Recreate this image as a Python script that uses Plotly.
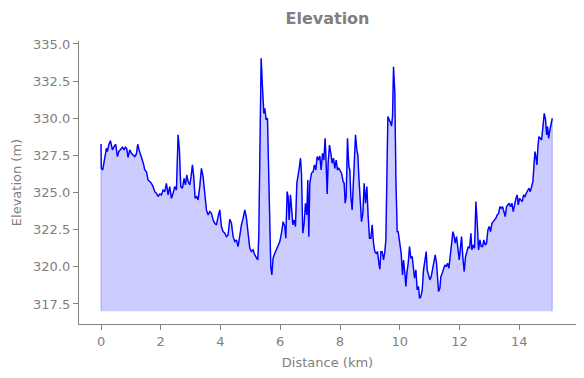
import plotly.graph_objects as go

# Distance along route (km)
distance_km = [
    0.00, 0.01, 0.057, 0.124, 0.18, 0.213, 0.258, 0.314, 0.347, 0.381, 0.436, 0.492, 0.548, 0.593, 0.660,
    0.716, 0.771, 0.816, 0.861, 0.905, 0.961, 1.017, 1.073, 1.129, 1.184, 1.229, 1.274, 1.318, 1.374, 1.430,
    1.463, 1.519, 1.575, 1.631, 1.687, 1.743, 1.798, 1.854, 1.910, 1.966, 2.022, 2.077, 2.133, 2.189, 2.245,
    2.301, 2.357, 2.412, 2.468, 2.524, 2.580, 2.625, 2.669, 2.725, 2.781, 2.826, 2.870, 2.915, 2.971, 3.015,
    3.060, 3.104, 3.149, 3.205, 3.250, 3.305, 3.361, 3.417, 3.473, 3.529, 3.585, 3.640, 3.696, 3.752, 3.808,
    3.864, 3.919, 3.975, 4.031, 4.087, 4.143, 4.199, 4.254, 4.310, 4.366, 4.422, 4.478, 4.533, 4.589, 4.645,
    4.701, 4.757, 4.813, 4.868, 4.924, 4.980, 5.036, 5.092, 5.147, 5.203, 5.248, 5.281, 5.315, 5.360, 5.404,
    5.449, 5.482, 5.527, 5.572, 5.605, 5.650, 5.683, 5.717, 5.761, 5.817, 5.873, 5.929, 5.985, 6.040, 6.096,
    6.152, 6.186, 6.230, 6.264, 6.297, 6.342, 6.375, 6.420, 6.465, 6.509, 6.554, 6.599, 6.643, 6.677, 6.710,
    6.755, 6.800, 6.844, 6.889, 6.922, 6.956, 6.989, 7.045, 7.101, 7.146, 7.190, 7.235, 7.280, 7.324, 7.369,
    7.413, 7.458, 7.503, 7.536, 7.570, 7.603, 7.648, 7.693, 7.738, 7.782, 7.827, 7.872, 7.916, 7.961, 8.006,
    8.050, 8.106, 8.139, 8.173, 8.206, 8.251, 8.296, 8.329, 8.363, 8.407, 8.463, 8.519, 8.564, 8.597, 8.631,
    8.675, 8.720, 8.765, 8.809, 8.854, 8.899, 8.943, 8.988, 9.033, 9.077, 9.122, 9.166, 9.211, 9.256, 9.300,
    9.334, 9.367, 9.412, 9.457, 9.501, 9.535, 9.568, 9.602, 9.647, 9.680, 9.725, 9.758, 9.792, 9.836, 9.870,
    9.914, 9.948, 10.004, 10.048, 10.093, 10.127, 10.171, 10.205, 10.238, 10.283, 10.327, 10.372, 10.417, 10.461, 10.495,
    10.540, 10.584, 10.629, 10.662, 10.707, 10.752, 10.796, 10.841, 10.886, 10.919, 10.964, 11.008, 11.053, 11.098, 11.142,
    11.187, 11.232, 11.265, 11.299, 11.343, 11.377, 11.421, 11.466, 11.511, 11.555, 11.600, 11.645, 11.689, 11.734, 11.779,
    11.812, 11.857, 11.901, 11.946, 11.991, 12.024, 12.069, 12.114, 12.158, 12.203, 12.248, 12.292, 12.337, 12.382, 12.415,
    12.460, 12.504, 12.549, 12.594, 12.638, 12.683, 12.728, 12.772, 12.817, 12.862, 12.906, 12.951, 12.996, 13.040, 13.085,
    13.130, 13.174, 13.219, 13.263, 13.308, 13.353, 13.397, 13.442, 13.487, 13.531, 13.576, 13.621, 13.665, 13.710, 13.755,
    13.799, 13.844, 13.889, 13.933, 13.967, 14.011, 14.056, 14.101, 14.145, 14.190, 14.235, 14.279, 14.324, 14.369, 14.413,
    14.458, 14.491, 14.525, 14.558, 14.592, 14.625, 14.659, 14.704, 14.748, 14.793, 14.837, 14.882, 14.916, 14.949, 14.983,
    15.027, 15.061, 15.106,
]

# Elevation (m)
elevation_m = [
    328.27, 326.63, 326.52, 327.42, 327.98, 327.75, 328.20, 328.49, 328.20, 327.87, 328.09, 328.25, 327.42, 327.75, 327.91,
    328.05, 327.87, 328.05, 327.96, 327.37, 327.87, 327.64, 327.53, 327.42, 327.60, 328.25, 327.87, 327.64, 327.24, 326.86,
    326.52, 326.41, 325.85, 325.74, 325.62, 325.40, 325.06, 324.95, 324.73, 324.91, 324.84, 325.17, 325.06, 325.62, 324.84,
    325.40, 324.61, 324.95, 325.40, 325.17, 328.88, 327.87, 325.40, 325.29, 325.96, 325.51, 326.18, 325.74, 325.51, 326.07,
    326.86, 326.07, 324.61, 324.73, 324.50, 325.40, 326.63, 326.07, 324.73, 323.83, 323.49, 323.72, 323.60, 323.16, 322.93,
    322.82, 323.38, 323.83, 322.71, 322.37, 322.26, 322.03, 322.15, 323.20, 322.93, 322.03, 321.70, 321.81, 321.36, 322.15,
    322.82, 323.27, 323.83, 323.27, 322.37, 321.25, 321.02, 321.14, 320.80, 320.58, 320.46, 322.03, 327.87, 334.03, 332.13,
    330.33, 330.67, 329.89, 330.00, 326.75, 322.26, 320.01, 319.45, 320.58, 320.91, 321.14, 321.47, 321.70, 322.26, 323.04,
    322.71, 321.92, 325.06, 324.73, 323.16, 324.84, 324.05, 322.82, 323.16, 322.71, 325.62, 326.07, 326.75, 327.31, 326.30,
    322.26, 322.93, 324.28, 323.49, 325.85, 322.03, 325.62, 326.30, 326.41, 326.86, 326.52, 327.42, 327.19, 327.46, 326.52,
    327.64, 327.19, 328.65, 326.97, 324.91, 326.97, 328.20, 327.64, 326.97, 327.31, 326.63, 327.19, 326.52, 326.63, 326.41,
    326.30, 325.74, 325.62, 324.28, 324.73, 328.65, 326.75, 326.52, 324.73, 323.83, 326.97, 328.88, 327.87, 327.53, 326.07,
    324.73, 323.04, 323.60, 325.62, 324.28, 325.40, 323.38, 321.92, 321.92, 322.82, 321.59, 321.02, 320.91, 321.02, 320.24,
    319.84, 321.02, 321.02, 320.46, 321.02, 321.81, 327.87, 330.11, 329.89, 329.77, 329.48, 330.11, 333.47, 331.68, 326.07,
    322.37, 322.37, 321.59, 320.91, 319.45, 320.46, 319.57, 318.67, 319.57, 320.24, 321.36, 320.58, 320.69, 320.01, 319.23,
    319.79, 318.45, 318.67, 317.88, 317.99, 318.45, 319.79, 320.46, 321.02, 319.79, 319.45, 319.12, 319.34, 319.79, 320.24,
    320.80, 320.24, 318.89, 318.33, 318.56, 319.34, 319.57, 319.79, 320.13, 320.01, 320.24, 319.90, 320.69, 321.59, 322.37,
    322.15, 321.59, 322.03, 321.14, 320.46, 321.14, 322.03, 320.58, 319.68, 320.69, 321.14, 321.36, 321.25, 322.26, 321.14,
    321.47, 321.25, 324.39, 322.93, 321.14, 321.81, 321.36, 321.36, 321.81, 321.47, 321.59, 322.48, 322.71, 322.37, 322.93,
    323.04, 323.16, 323.27, 323.49, 323.60, 324.05, 323.94, 324.05, 323.60, 323.38, 324.05, 324.17, 324.28, 324.05, 324.28,
    323.72, 324.28, 324.61, 324.84, 324.17, 324.61, 324.50, 324.39, 324.84, 324.73, 324.95, 325.17, 325.29, 325.06, 325.40,
    325.74, 326.75, 327.75, 327.42, 326.86, 328.09, 328.76, 328.65, 328.54, 329.44, 330.33, 329.89, 328.88, 329.44, 328.65,
    329.21, 329.66, 330.00,
]

fill_base_m = 317.0
x_ticks = [0, 2, 4, 6, 8, 10, 12, 14]
y_ticks = [317.5, 320.0, 322.5, 325.0, 327.5, 330.0, 332.5, 335.0]

GRAY = "#808080"
FONT = "DejaVu Sans"

fig = go.Figure()

# Shaded area (polygon down to the base elevation)
poly_x = [distance_km[0]] + distance_km + [distance_km[-1]]
poly_y = [fill_base_m] + elevation_m + [fill_base_m]
fig.add_trace(go.Scatter(
    x=poly_x, y=poly_y, mode="lines", fill="toself",
    fillcolor="rgba(0,0,255,0.2)",
    line=dict(color="rgba(0,0,255,0.2)", width=1.3),
    hoverinfo="skip", showlegend=False,
))

# Elevation line
fig.add_trace(go.Scatter(
    x=distance_km, y=elevation_m, mode="lines",
    line=dict(color="#0000ff", width=1.4),
    showlegend=False,
))

fig.update_layout(
    width=584, height=378,
    margin=dict(l=79, r=8, t=41, b=54),
    paper_bgcolor="white", plot_bgcolor="white",
    font=dict(family=FONT, color=GRAY, size=13),
    title=dict(text="<b>Elevation</b>", x=0.5, xref="paper", y=1 - 18 / 378, yref="container",
               xanchor="center", yanchor="middle",
               font=dict(family=FONT, size=16, color=GRAY)),
)

fig.update_xaxes(
    range=[-0.737, 15.9], tickvals=x_ticks, ticktext=[str(v) for v in x_ticks],
    showgrid=False, zeroline=False, showline=True, linecolor=GRAY, linewidth=1.2,
    ticks="outside", ticklen=5, tickcolor=GRAY, tickwidth=1,
    tickfont=dict(family=FONT, size=13, color=GRAY),
    title=dict(text="Distance (km)", font=dict(family=FONT, size=13, color=GRAY), standoff=10),
)
fig.update_yaxes(
    range=[316.15, 335.2], tickvals=y_ticks, ticktext=[f"{v:.1f}" for v in y_ticks],
    showgrid=False, zeroline=False, showline=True, linecolor=GRAY, linewidth=1.2,
    ticks="outside", ticklen=5, tickcolor=GRAY, tickwidth=1,
    tickfont=dict(family=FONT, size=13, color=GRAY),
    title=dict(text="Elevation (m)", font=dict(family=FONT, size=13, color=GRAY), standoff=8),
)

fig.write_html("out.html", config={"displayModeBar": False},
               post_script="document.body.style.margin='0';")
